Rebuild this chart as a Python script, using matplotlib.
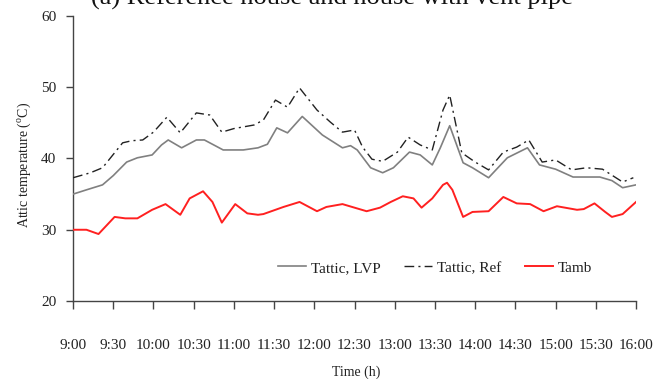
import matplotlib
matplotlib.use("Agg")
import matplotlib.pyplot as plt

plt.rcParams["font.family"] = ["Liberation Serif", "DejaVu Serif"]
plt.rcParams["mathtext.fontset"] = "custom"
plt.rcParams["mathtext.rm"] = "Liberation Serif"

# Minutes after 9:00 and temperatures (°C) for each series
lvp_t = [0, 10, 22, 30, 40, 48, 59, 66, 71, 81, 92, 98, 112, 127, 138, 145, 152, 160,
         171, 186, 201, 207, 212, 222, 231, 239, 251, 259, 268, 274, 281, 291, 298, 310,
         324, 339, 348, 360, 373, 393, 402, 410, 420]
lvp_T = [35.0, 35.6, 36.3, 37.6, 39.5, 40.1, 40.5, 41.9, 42.6, 41.5, 42.6, 42.6, 41.2, 41.2,
         41.5, 42.0, 44.3, 43.6, 45.9, 43.3, 41.5, 41.8, 41.2, 38.7, 38.0, 38.7, 40.9, 40.5,
         39.1, 41.5, 44.6, 39.4, 38.7, 37.3, 40.1, 41.5, 39.1, 38.5, 37.4, 37.4, 36.9, 35.9, 36.3]

ref_t = [0, 13, 22, 37, 44, 52, 60, 70, 80, 92, 102, 111, 120, 135, 142, 151, 160, 169,
         182, 192, 201, 210, 216, 223, 231, 242, 250, 259, 268, 276, 281, 290, 300, 310,
         321, 331, 340, 350, 360, 372, 383, 395, 410, 418]
ref_T = [37.3, 38.0, 38.7, 42.2, 42.5, 42.6, 43.7, 45.8, 43.6, 46.4, 46.1, 43.7, 44.2, 44.7,
         45.4, 48.2, 47.2, 49.9, 46.8, 45.1, 43.7, 44.0, 41.6, 39.9, 39.6, 40.9, 43.0, 41.9,
         41.2, 46.8, 48.9, 40.8, 39.5, 38.4, 40.9, 41.6, 42.6, 39.5, 39.8, 38.4, 38.7, 38.5,
         36.7, 37.3]

amb_t = [0, 10, 19, 31, 39, 48, 59, 69, 80, 87, 97, 104, 111, 121, 130, 138, 142, 157,
         169, 182, 189, 201, 219, 229, 237, 246, 254, 260, 268, 276, 279, 283, 291, 298,
         310, 321, 331, 341, 351, 361, 376, 381, 389, 397, 402, 410, 420]
amb_T = [30.0, 30.0, 29.4, 31.8, 31.6, 31.6, 32.8, 33.6, 32.1, 34.4, 35.4, 33.9, 31.0, 33.6,
         32.3, 32.1, 32.2, 33.2, 33.9, 32.6, 33.2, 33.6, 32.6, 33.1, 33.9, 34.7, 34.4, 33.1,
         34.4, 36.3, 36.6, 35.6, 31.8, 32.5, 32.6, 34.6, 33.7, 33.6, 32.6, 33.3, 32.8, 32.9,
         33.7, 32.5, 31.8, 32.2, 33.9]

tick_minutes = list(range(0, 421, 30))
tick_labels = ["9:00", "9:30", "10:00", "10:30", "11:00", "11:30", "12:00", "12:30",
               "13:00", "13:30", "14:00", "14:30", "15:00", "15:30", "16:00"]

fig = plt.figure(figsize=(6.58, 3.79), dpi=100)
ax = fig.add_axes([0.111, 0.2058, 0.8556, 0.752])

ax.plot(lvp_t, lvp_T, color="#808080", lw=1.2, label="Tattic, LVP", zorder=3)
ax.plot(ref_t, ref_T, color="#222222", lw=1.0, dashes=(7, 3, 1.5, 3),
        label="Tattic, Ref", zorder=3)
ax.plot(amb_t, amb_T, color="#ff2020", lw=1.4, label="Tamb", zorder=4)

ax.set_xlim(0, 420)
ax.set_ylim(20, 60)
ax.set_xticks(tick_minutes)
ax.set_xticklabels(tick_labels)
ax.set_yticks([20, 30, 40, 50, 60])

for s in ("top", "right"):
    ax.spines[s].set_visible(False)
for s in ("left", "bottom"):
    ax.spines[s].set_color("#444444")
    ax.spines[s].set_linewidth(1.0)

ax.tick_params(axis="x", direction="out", length=6, width=1, color="#444444",
               labelsize=11, pad=21, labelcolor="#222222")
ax.tick_params(axis="y", direction="out", length=5, width=1, color="#444444",
               labelsize=11, pad=7, labelcolor="#222222")

ax.set_xlabel("Time (h)", fontsize=10, color="#222222")
ax.xaxis.set_label_coords(0.503, -0.2516)
ax.xaxis.label.set_va("center")
ax.set_ylabel(r"Attic temperature ($^{\mathrm{o}}$C)", fontsize=10, color="#222222")
ax.yaxis.set_label_coords(-0.087, 0.477)
ax.yaxis.label.set_va("center")

leg = ax.legend(loc="center", bbox_to_anchor=(0.643, 0.116), ncol=3, frameon=False,
                fontsize=11, handlelength=1.85, handletextpad=0.35,
                columnspacing=1.5, borderpad=0, borderaxespad=0)
for txt in leg.get_texts():
    txt.set_color("#222222")

fig.text(0.504, 1 - 4.5 / 379, "(a) Reference house and house with vent pipe",
         ha="center", va="baseline", fontsize=19, color="#111111")

fig.savefig("out.png", dpi=100)
